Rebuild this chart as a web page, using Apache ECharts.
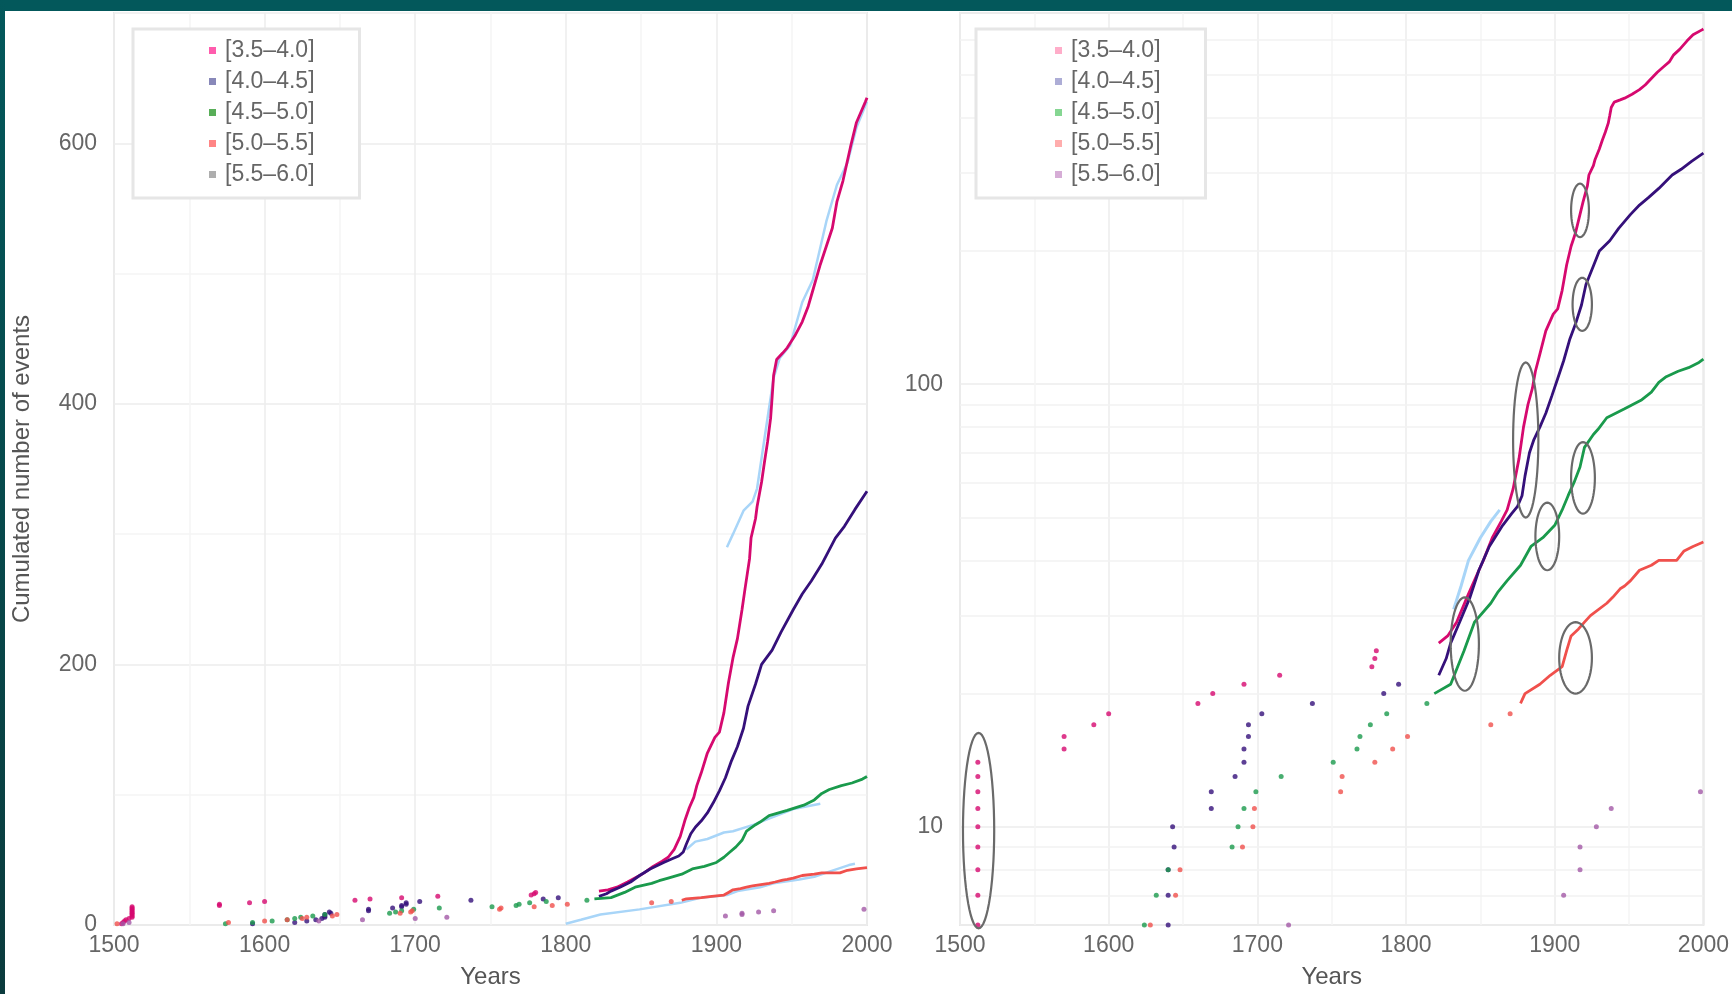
<!DOCTYPE html>
<html><head><meta charset="utf-8">
<script src="https://cdn.jsdelivr.net/npm/echarts@6.0.0/dist/echarts.min.js"></script>
<style>
html,body{margin:0;padding:0;background:#fff;width:1732px;height:994px;overflow:hidden}
#chart{position:absolute;left:0;top:0;width:1732px;height:994px}
#ft{position:absolute;left:0;top:0;width:1732px;height:11px;background:#03585B;z-index:2}
#fl{position:absolute;left:0;top:0;width:5px;height:994px;background:linear-gradient(#03585B,#0B3B3D);z-index:2}
</style></head><body>
<div id="chart"></div><div id="ft"></div><div id="fl"></div>
<script>
// ---------- data ----------
const classNames = ['[3.5–4.0]', '[4.0–4.5]', '[4.5–5.0]', '[5.0–5.5]', '[5.5–6.0]'];
const xTicks = [1500, 1600, 1700, 1800, 1900, 2000];
const yTicksLinear = [0, 200, 400, 600];
const yTicksLog = [10, 100];
const logMinorLines = [7, 8, 9, 20, 30, 40, 50, 60, 70, 80, 90, 200, 300, 400, 500, 600];

// isolated early events (year, cumulated count)
const pinkEarly = [[1505,1],[1506,2],[1507,3],[1508,4],[1510,5],[1512,6],[1512,7],[1512,8],[1512,9],[1512,10],[1512,11],[1512,12],[1512,13],[1512,14],[1570,15],[1570,16],[1590,17],[1600,18],[1660,19],[1670,20],[1691,21],[1715,22],[1777,23],[1779,24],[1780,25]];
const indigoEarly = [[1592,1],[1620,2],[1628,3],[1634,4],[1638,5],[1640,6],[1640,7],[1640,8],[1644,9],[1643,10],[1669,11],[1669,12],[1685,13],[1691,14],[1691,15],[1694,16],[1694,17],[1703,18],[1737,19],[1785,20],[1795,21]];
const greenEarly = [[1574,1],[1592,2],[1605,3],[1615,4],[1620,5],[1624,6],[1632,7],[1640,8],[1683,9],[1687,10],[1691,11],[1699,12],[1716,13],[1751,14],[1767,15],[1769,16],[1776,17],[1787,18],[1814,19]];
const redEarly = [[1502,1],[1576,2],[1600,3],[1615,4],[1625,5],[1628,6],[1645,7],[1648,8],[1690,9],[1697,10],[1698,11],[1756,12],[1757,13],[1779,14],[1791,15],[1801,16],[1857,17],[1870,18]];
const purpleEarly = [[1506,1],[1510,2],[1636,3],[1665,4],[1700,5],[1721,6],[1906,7],[1917,8],[1917,9],[1928,10],[1938,11],[1998,12]];

// continuous parts (year, cumulated count)
const pinkLine = [[1822,26],[1828,27],[1834,29],[1841,33],[1849,38],[1852,40],[1858,45],[1864,49],[1868,52],[1872,58],[1876,68],[1879,80],[1882,90],[1885,98],[1887,107],[1890,117],[1894,132],[1899,144],[1902,148],[1905,163],[1908,186],[1911,205],[1914,220],[1917,242],[1919,258],[1922,281],[1923,297],[1926,312],[1927,321],[1930,340],[1932,356],[1934,371],[1936,389],[1937,405],[1938,422],[1940,434],[1944,439],[1947,443],[1952,452],[1957,463],[1961,475],[1964,487],[1969,507],[1973,521],[1977,535],[1980,555],[1984,571],[1989,597],[1993,616],[1999,632],[2000,635]];
const indigoLine = [[1822,22],[1827,24],[1830,26],[1836,29],[1843,33],[1849,38],[1856,43],[1865,48],[1871,51],[1875,53],[1878,56],[1880,62],[1883,70],[1886,75],[1890,80],[1894,86],[1898,94],[1902,103],[1906,113],[1910,126],[1914,137],[1918,151],[1921,168],[1926,185],[1930,200],[1937,211],[1943,225],[1951,242],[1957,254],[1963,264],[1970,277],[1979,297],[1985,306],[1992,319],[2000,333]];
const greenLine = [[1819,20],[1830,21],[1839,25],[1846,29],[1857,32],[1862,34],[1868,36],[1877,39],[1884,43],[1892,45],[1900,48],[1905,52],[1909,56],[1913,60],[1917,65],[1920,72],[1926,77],[1929,79],[1935,84],[1947,88],[1958,92],[1965,96],[1970,101],[1975,104],[1983,107],[1990,109],[1997,112],[2000,114]];
const redLine = [[1877,19],[1880,20],[1890,21],[1897,22],[1905,23],[1908,25],[1911,27],[1916,28],[1920,29],[1924,30],[1935,32],[1939,33],[1944,34.5],[1947,35],[1951,36],[1957,38],[1965,39],[1970,40],[1982,40],[1987,42],[1993,43],[2000,44]];

// light blue traces
const lightBlueLeftA = [[1907,290],[1911,300],[1918,318],[1924,325],[1927,335],[1932,374],[1938,420],[1942,435],[1949,445],[1957,478],[1964,495],[1973,540],[1980,568],[1987,585],[1993,612],[2000,632]];
const lightBlueLeftB = [[1880,58],[1886,64],[1894,66],[1905,71],[1911,72],[1925,77],[1929,79],[1940,84],[1951,89],[1969,93]];
const lightBlueLeftC = [[1800,1],[1810,4],[1823,8],[1849,12],[1876,17],[1890,21],[1907,23],[1914,26],[1929,29],[1938,32],[1955,35],[1965,37],[1975,41],[1988,46],[1992,47]];
const lightBlueRight = [[1832,31],[1837,35],[1842,40],[1850,45],[1857,49],[1863,52]];

// highlighted clusters on the log panel: [yearFrom, yearTo, countFrom, countTo]
const clusters = [[1502,1523,5.9,16.3],[1830,1849,20.3,33],[1872,1889,50,112],[1887,1903,38,54],[1911,1927,51,74],[1903,1925,20,29],[1911,1923,215,284],[1912,1925,132,174]];

// ---------- styles ----------
const FONT = '"Liberation Sans", Arial, sans-serif';
const colors = ['#D6096F', '#35107A', '#1A9A4C', '#F0504C', '#A259A6'];
const legendLeftColors = ['#FF3399', '#6A6AA8', '#2E9A2E', '#FF6666', '#9A9A9A'];
const legendRightColors = ['#FF99BB', '#9999CC', '#66CC77', '#FF9999', '#CC99CC'];
const LB = '#A8D5F8';
const early = [pinkEarly, indigoEarly, greenEarly, redEarly, purpleEarly];
const lines = [pinkLine, indigoLine, greenLine, redLine, null];

const chart = echarts.init(document.getElementById('chart'), null, {renderer: 'canvas'});

function xAxis(gi) {
  return {
    type: 'value', gridIndex: gi, min: 1500, max: 2000, interval: 50,
    name: 'Years', nameLocation: 'middle', nameGap: 40,
    nameTextStyle: {fontSize: 24, color: '#555', fontFamily: FONT},
    axisLine: {show: false}, axisTick: {show: false},
    axisLabel: {margin: 9, fontSize: 23, color: '#666', fontFamily: FONT,
      formatter: v => (xTicks.indexOf(Math.round(v)) >= 0 ? String(Math.round(v)) : '')},
    splitLine: {show: true, lineStyle: {color: ['#ECECEC', '#F4F4F4'], width: 1.5}}
  };
}

const legendBase = {
  orient: 'vertical', top: 29, icon: 'rect', itemWidth: 7, itemHeight: 7, itemGap: 8, z: 10,
  backgroundColor: '#fff', borderColor: '#E6E6E6', borderWidth: 3, borderRadius: 0,
  selectedMode: false,
  textStyle: {fontSize: 23, lineHeight: 23, color: '#666', fontFamily: FONT, padding: [0, 0, 0, 4]}
};

const series = [];
// light blue traces (under)
[lightBlueLeftA, lightBlueLeftB, lightBlueLeftC].forEach((d, i) => series.push({
  type: 'line', name: 'lb' + i, xAxisIndex: 0, yAxisIndex: 0, data: d, showSymbol: false, z: 2,
  lineStyle: {color: LB, width: 2.5}, itemStyle: {color: LB}, animation: false, silent: true
}));
series.push({
  type: 'line', name: 'lbR', xAxisIndex: 1, yAxisIndex: 1, data: lightBlueRight, showSymbol: false, z: 2,
  lineStyle: {color: LB, width: 3}, itemStyle: {color: LB}, animation: false, silent: true,
  markLine: {silent: true, z: 0, zlevel: 0, symbol: ['none', 'none'], label: {show: false}, animation: false,
    lineStyle: {color: '#F2F2F2', type: 'solid', width: 1.5},
    data: logMinorLines.map(v => ({yAxis: v}))}
});
for (let g = 0; g < 2; g++) {
  for (let k = 0; k < 5; k++) {
    series.push({
      type: 'scatter', name: classNames[k], xAxisIndex: g, yAxisIndex: g, data: early[k],
      symbol: 'circle', symbolSize: 5, itemStyle: {color: colors[k]}, z: 3, animation: false
    });
    if (lines[k]) series.push({
      type: 'line', name: classNames[k], xAxisIndex: g, yAxisIndex: g, data: lines[k],
      showSymbol: false, lineStyle: {color: colors[k], width: 2.8}, itemStyle: {color: colors[k]},
      z: 4, animation: false
    });
  }
}
series.push({
  type: 'custom', name: 'clusters', xAxisIndex: 1, yAxisIndex: 1, data: clusters, clip: false, z: 5,
  encode: {x: [0, 1], y: [2, 3]}, silent: true, animation: false,
  renderItem: (params, api) => {
    const p1 = api.coord([api.value(0), api.value(3)]);
    const p2 = api.coord([api.value(1), api.value(2)]);
    const cx = (p1[0] + p2[0]) / 2, cy = (p1[1] + p2[1]) / 2;
    const rx = Math.abs(p2[0] - p1[0]) / 2, ry = Math.abs(p2[1] - p1[1]) / 2;
    const pts = [];
    for (let i = 0; i < 60; i++) { const t = i / 60 * Math.PI * 2; pts.push([cx + rx * Math.cos(t), cy + ry * Math.sin(t)]); }
    return {type: 'polygon', shape: {points: pts}, style: {fill: 'none', stroke: '#6A6A6A', lineWidth: 2.2}};
  }
});

const option = {
  backgroundColor: '#fff',
  animation: false,
  grid: [
    {left: 114, top: 13, width: 753, height: 917, show: true, borderColor: '#E6E6E6', borderWidth: 2, backgroundColor: '#fff'},
    {left: 960, top: 13, width: 752, height: 917, show: true, borderColor: '#E6E6E6', borderWidth: 2, backgroundColor: '#fff'}
  ],
  xAxis: [xAxis(0), xAxis(1)],
  yAxis: [
    {type: 'value', gridIndex: 0, min: 0, max: 700, interval: 100,
     name: 'Cumulated number of events', nameLocation: 'middle', nameGap: 80, nameRotate: 90,
     nameTextStyle: {fontSize: 24, color: '#555', fontFamily: FONT},
     axisLine: {show: false}, axisTick: {show: false},
     axisLabel: {margin: 17, fontSize: 23, color: '#666', fontFamily: FONT,
       formatter: v => (yTicksLinear.indexOf(Math.round(v)) >= 0 ? String(Math.round(v)) : '')},
     splitLine: {show: true, lineStyle: {color: ['#ECECEC', '#F4F4F4'], width: 1.5}}},
    {type: 'log', logBase: 10, gridIndex: 1, min: 6, max: 690,
     axisLine: {show: false}, axisTick: {show: false},
     axisLabel: {margin: 17, fontSize: 23, color: '#666', fontFamily: FONT,
       formatter: v => { const r = yTicksLog.find(t => Math.abs(t - v) < 1e-6 * t); return r ? String(r) : ''; }},
     splitLine: {show: true, lineStyle: {color: '#EDEDED', width: 1.5}}}
  ],
  legend: [
    Object.assign({}, legendBase, {left: 133, padding: [10, 45, 12, 76],
      data: classNames.map((n, i) => ({name: n, itemStyle: {color: legendLeftColors[i]}}))}),
    Object.assign({}, legendBase, {left: 976, padding: [10, 45, 12, 79],
      data: classNames.map((n, i) => ({name: n, itemStyle: {color: legendRightColors[i]}}))})
  ],
  series: series
};
chart.setOption(option);
</script></body></html>
